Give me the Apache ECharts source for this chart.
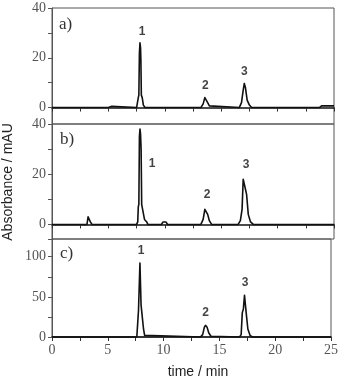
<!DOCTYPE html>
<html><head><meta charset="utf-8">
<script src="https://cdn.jsdelivr.net/npm/echarts@6/dist/echarts.min.js"></script>
<style>html,body{margin:0;padding:0;background:#fff}#c{width:341px;height:386px}</style>
</head><body><div id="c"></div>
<script>
// Panel a) chromatogram
const timeA = [0, 5.0, 5.15, 5.3, 5.45, 7.5, 7.6, 7.65, 7.7, 7.75, 7.8, 7.85, 7.88, 7.92, 8.0, 8.1, 8.25, 13.2, 13.4, 13.55, 13.65, 13.8, 13.95, 14.1, 16.6, 16.8, 16.95, 17.05, 17.15, 17.3, 17.5, 17.7, 23.7, 23.9, 25];
const absA  = [0, 0, 0.6, 0.5, 0, 0, 0.5, 4, 5, 22, 26, 24, 19, 5, 4, 1, 0, 0, 1.5, 4, 4.3, 2, 0.7, 0, 0, 2, 7, 9.7, 8, 3, 1, 0, 0, 0.7, 0.7];
// Panel b)
const timeB = [0, 3.1, 3.2, 3.3, 3.4, 3.55, 5.25, 5.4, 5.55, 7.5, 7.6, 7.65, 7.7, 7.75, 7.8, 7.85, 7.9, 7.95, 8.1, 8.2, 8.4, 8.5, 9.7, 9.85, 10.1, 10.25, 13.2, 13.4, 13.55, 13.65, 13.8, 13.95, 14.15, 16.5, 16.7, 16.85, 16.95, 17.05, 17.15, 17.25, 17.4, 17.6, 17.85, 25];
const absB  = [0, 0, 3, 2, 1, 0, 0, 0.6, 0, 0, 1, 7, 8, 35, 38, 36, 30, 8, 7.5, 2, 1, 0, 0, 1, 1, 0, 0, 2, 6, 6.4, 4, 1.5, 0, 0, 1.5, 6, 18, 18.7, 14, 12, 4, 1, 0, 0];
// Panel c)
const timeC = [0, 7.6, 7.7, 7.75, 7.82, 7.88, 7.93, 7.98, 8.1, 8.2, 8.3, 8.45, 13.3, 13.5, 13.65, 13.75, 13.9, 14.05, 14.25, 14.4, 16.8, 16.95, 17.05, 17.15, 17.25, 17.32, 17.4, 17.55, 17.75, 17.95, 25];
const absC  = [0, 0, 2, 33, 35, 92, 90, 40, 41, 10, 2, 0, 0, 3, 12, 14.5, 12, 5, 1, 0, 0, 3, 30, 35, 52, 50, 30, 10, 2, 0, 0];

// Peak number annotations (time, absorbance) per panel
const peakNames = ['1', '2', '3'];
const peakPosA = [[7.98, 30.4], [13.6, 8.6], [17.05, 14.4]];
const peakPosB = [[8.87, 24.2], [13.75, 11.8], [17.2, 23.8]];
const peakPosC = [[7.98, 108], [13.77, 30], [17.3, 67]];

const xTickLabels = [0, 5, 10, 15, 20, 25];
const yTicksA = [0, 10, 20, 30, 40], yLabelsA = [0, 20, 40];
const yTicksB = [0, 10, 20, 30, 40], yLabelsB = [0, 20, 40];
const yTicksC = [0, 25, 50, 75, 100, 122], yLabelsC = [0, 50, 100];
const panelTags = ['a)', 'b)', 'c)'];

const zip = (t, v) => t.map((x, i) => [x, v[i]]);
const serif = 'Liberation Serif';
const frameColor = '#555';

const grids = [
  {left: 52, right: 7, top: 8, height: 116},
  {left: 52, right: 7, top: 124, height: 115},
  {left: 52, right: 7, top: 239, height: 98}
].map(g => Object.assign(g, {show: true, borderColor: frameColor, borderWidth: 1, containLabel: false}));

function xAx(i, labels) {
  return {
    type: 'value', gridIndex: i, min: 0, max: 25, interval: 2.5,
    axisLine: {show: true, onZero: true, lineStyle: {color: '#111', width: 1.5}},
    axisTick: {show: true, length: 4, lineStyle: {color: '#333'}},
    splitLine: {show: false},
    axisLabel: {show: labels, margin: 6, fontFamily: serif, fontSize: 14, color: '#555',
      formatter: v => (xTickLabels.indexOf(v) >= 0 ? String(v) : '')}
  };
}
function yAx(i, min, max, ticks, labels) {
  return {
    type: 'value', gridIndex: i, min: min, max: max,
    axisLine: {show: true, onZero: false, lineStyle: {color: frameColor}},
    axisTick: {show: true, length: 4, customValues: ticks, lineStyle: {color: frameColor}},
    axisLabel: {show: true, customValues: labels, margin: 6, fontFamily: serif, fontSize: 14, color: '#555'},
    splitLine: {show: false}
  };
}
function lineS(i, t, v) {
  return {type: 'line', xAxisIndex: i, yAxisIndex: i, data: zip(t, v), showSymbol: false, symbol: 'none',
    clip: false, lineStyle: {color: '#111', width: 1.6, join: 'round'}, animation: false, z: 3};
}
function peakS(i, pos) {
  return {type: 'scatter', xAxisIndex: i, yAxisIndex: i, symbolSize: 0, animation: false, silent: true,
    data: pos.map((p, k) => ({value: p, name: peakNames[k]})),
    label: {show: true, position: 'inside', formatter: p => p.name, fontFamily: 'Liberation Sans',
      fontWeight: 'bold', fontSize: 12, color: '#111'}};
}

const chart = echarts.init(document.getElementById('c'), null, {renderer: 'canvas'});
chart.setOption({
  animation: false,
  grid: grids,
  xAxis: [xAx(0, false), xAx(1, false), xAx(2, true)],
  yAxis: [yAx(0, -6.6, 40, yTicksA, yLabelsA), yAx(1, -5.8, 40, yTicksB, yLabelsB), yAx(2, 0, 122, yTicksC, yLabelsC)],
  series: [lineS(0, timeA, absA), lineS(1, timeB, absB), lineS(2, timeC, absC),
           peakS(0, peakPosA), peakS(1, peakPosB), peakS(2, peakPosC)],
  graphic: [
    {type: 'text', left: 59, top: 16, style: {text: panelTags[0], font: '17px "Liberation Serif"', fill: '#333'}},
    {type: 'text', left: 60, top: 131, style: {text: panelTags[1], font: '17px "Liberation Serif"', fill: '#333'}},
    {type: 'text', left: 60, top: 245, style: {text: panelTags[2], font: '17px "Liberation Serif"', fill: '#333'}},
    {type: 'text', x: 198, y: 372, style: {text: 'time / min', font: '14px "Liberation Sans"', fill: '#222', align: 'center', verticalAlign: 'middle'}},
    {type: 'text', x: 8, y: 182, rotation: Math.PI / 2, style: {text: 'Absorbance / mAU', font: '14px "Liberation Sans"', fill: '#222', align: 'center', verticalAlign: 'middle'}}
  ]
});
</script></body></html>
